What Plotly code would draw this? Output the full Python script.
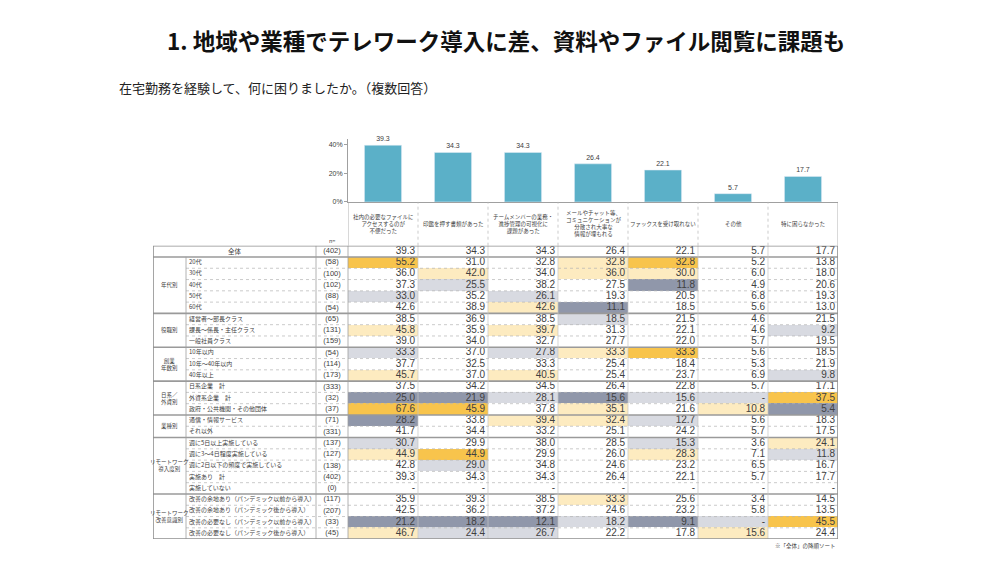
import plotly.graph_objects as go

# ---------------- data ----------------
categories = [
    "社内の必要なファイルに<br>アクセスするのが<br>不便だった",
    "印鑑を押す書類があった",
    "チームメンバーの業務・<br>進捗管理の可視化に<br>課題があった",
    "メールやチャット等、<br>コミュニケーションが<br>分散され大事な<br>情報が埋もれる",
    "ファックスを受け取れない",
    "その他",
    "特に困らなかった",
]
overall = [39.3, 34.3, 34.3, 26.4, 22.1, 5.7, 17.7]

group_labels = ["年代別", "役職別", "創業<br>年数別", "日系／<br>外資別", "業種別",
                "リモートワーク<br>導入度別", "リモートワーク<br>改善意識別"]
group_sizes = [5, 3, 3, 3, 2, 5, 4]

row_labels = [
    "全体", "20代", "30代", "40代", "50代", "60代",
    "経営者～部長クラス", "課長～係長・主任クラス", "一般社員クラス",
    "10年以内", "10年～40年以内", "40年以上",
    "日系企業　計", "外資系企業　計", "政府・公共機関・その他団体",
    "通信・情報サービス", "それ以外",
    "週に5日以上実施している", "週に3～4日程度実施している", "週に2日以下の頻度で実施している",
    "実施あり　計", "実施していない",
    "改善の余地あり（パンデミック以前から導入）", "改善の余地あり（パンデミック後から導入）",
    "改善の必要なし（パンデミック以前から導入）", "改善の必要なし（パンデミック後から導入）",
]
row_n = [402, 58, 100, 102, 88, 54, 65, 131, 159, 54, 114, 173, 333, 32, 37,
         71, 331, 137, 127, 138, 402, 0, 117, 207, 33, 45]
row_values = [
    [39.3, 34.3, 34.3, 26.4, 22.1, 5.7, 17.7],
    [55.2, 31.0, 32.8, 32.8, 32.8, 5.2, 13.8],
    [36.0, 42.0, 34.0, 36.0, 30.0, 6.0, 18.0],
    [37.3, 25.5, 38.2, 27.5, 11.8, 4.9, 20.6],
    [33.0, 35.2, 26.1, 19.3, 20.5, 6.8, 19.3],
    [42.6, 38.9, 42.6, 11.1, 18.5, 5.6, 13.0],
    [38.5, 36.9, 38.5, 18.5, 21.5, 4.6, 21.5],
    [45.8, 35.9, 39.7, 31.3, 22.1, 4.6, 9.2],
    [39.0, 34.0, 32.7, 27.7, 22.0, 5.7, 19.5],
    [33.3, 37.0, 27.8, 33.3, 33.3, 5.6, 18.5],
    [37.7, 32.5, 33.3, 25.4, 18.4, 5.3, 21.9],
    [45.7, 37.0, 40.5, 25.4, 23.7, 6.9, 9.8],
    [37.5, 34.2, 34.5, 26.4, 22.8, 5.7, 17.1],
    [25.0, 21.9, 28.1, 15.6, 15.6, None, 37.5],
    [67.6, 45.9, 37.8, 35.1, 21.6, 10.8, 5.4],
    [28.2, 33.8, 39.4, 32.4, 12.7, 5.6, 18.3],
    [41.7, 34.4, 33.2, 25.1, 24.2, 5.7, 17.5],
    [30.7, 29.9, 38.0, 28.5, 15.3, 3.6, 24.1],
    [44.9, 44.9, 29.9, 26.0, 28.3, 7.1, 11.8],
    [42.8, 29.0, 34.8, 24.6, 23.2, 6.5, 16.7],
    [39.3, 34.3, 34.3, 26.4, 22.1, 5.7, 17.7],
    [None, None, None, None, None, None, None],
    [35.9, 39.3, 38.5, 33.3, 25.6, 3.4, 14.5],
    [42.5, 36.2, 37.2, 24.6, 23.2, 5.8, 13.5],
    [21.2, 18.2, 12.1, 18.2, 9.1, None, 45.5],
    [46.7, 24.4, 26.7, 22.2, 17.8, 15.6, 24.4],
]
# highlight codes: 0 none, 1 light yellow, 2 orange, 3 light gray, 4 dark gray
row_marks = [
    "0000000", "2001200", "0101100", "0300400", "3030000", "0014000",
    "0003000", "1010003", "0000000",
    "3031200", "0000000", "1010003",
    "0000000", "4434332", "2201014",
    "4011300", "0000000",
    "3000301", "1200103", "0300000", "0000000", "0000000",
    "0001000", "0000000", "4443432", "1330010",
]

# ---------------- style ----------------
JP = "Noto Sans CJK JP"
NUM = "Liberation Sans, Arial"
BAR_COLOR = "#5BB0C8"
mark_colors = ["#FFFFFF", "#FDEBC0", "#F8C44C", "#D8DAE1", "#9097AA"]
LINE = "#A0A0A0"
TXT = "#404040"
W, H = 1000, 563


def py(p):
    return 1 - p / H


def px(p):
    return p / W


ncol = len(categories)
nrow = len(row_labels)

# table horizontal geometry (pixels)
T_LEFT, T_GRP, T_SUB, T_DATA, T_RIGHT = 153, 186, 316, 348, 838
colw = (T_RIGHT - T_DATA) / ncol


def tx(p):
    return (p - T_DATA) / colw


fig = go.Figure()

# ---------------- bar chart ----------------
fig.add_trace(go.Bar(
    x=list(range(ncol)), y=overall, marker_color=BAR_COLOR, width=0.53,
    text=[f"{v:.1f}" for v in overall], textposition="outside",
    textfont=dict(size=7, color=TXT, family=NUM), cliponaxis=False,
    hoverinfo="skip", xaxis="x", yaxis="y",
))

# ---------------- table cells ----------------
z = [[int(c) for c in m] for m in row_marks]
fig.add_trace(go.Heatmap(
    z=z, x=[c + 0.5 for c in range(ncol)], y=[r + 0.5 for r in range(nrow)],
    colorscale=[[i / 4, col] for i, col in enumerate(mark_colors)],
    zmin=0, zmax=4, showscale=False, hoverinfo="skip",
    xaxis="x2", yaxis="y2",
))

# numbers
nx, ny, nt = [], [], []
for r, vals in enumerate(row_values):
    for c, v in enumerate(vals):
        nx.append(c + 0.96)
        ny.append(r + 0.5)
        nt.append("-" if v is None else f"{v:.1f}")
fig.add_trace(go.Scatter(
    x=nx, y=ny, text=nt, mode="text", textposition="middle left",
    textfont=dict(size=10, color=TXT, family=NUM), hoverinfo="skip",
    xaxis="x2", yaxis="y2",
))

# n column
fig.add_trace(go.Scatter(
    x=[(tx(T_SUB) + tx(T_DATA)) / 2] * nrow, y=[r + 0.5 for r in range(nrow)],
    text=[f"({n})" for n in row_n], mode="text", textposition="middle center",
    textfont=dict(size=7.5, color=TXT, family=NUM), hoverinfo="skip",
    xaxis="x2", yaxis="y2",
))

# sub labels (rows after the overall one)
fig.add_trace(go.Scatter(
    x=[tx(T_GRP + 3)] * (nrow - 1), y=[r + 0.5 for r in range(1, nrow)],
    text=row_labels[1:], mode="text", textposition="middle right",
    textfont=dict(size=6, color=TXT, family=JP), hoverinfo="skip",
    xaxis="x2", yaxis="y2",
))

annotations = []
# overall label spanning the two label columns
annotations.append(dict(x=(tx(T_LEFT) + tx(T_SUB)) / 2, y=0.5, xref="x2", yref="y2",
                        text=row_labels[0], showarrow=False, yanchor="middle",
                        font=dict(size=6.5, color=TXT, family=JP)))
# group labels
start = 1
group_bounds = [1]
for g, size in zip(group_labels, group_sizes):
    annotations.append(dict(x=(tx(T_LEFT) + tx(T_GRP)) / 2, y=start + size / 2,
                            xref="x2", yref="y2", text=g, showarrow=False,
                            yanchor="middle",
                            font=dict(size=5.5, color=TXT, family=JP)))
    start += size
    group_bounds.append(start)

# category labels under the bars
for i, cat in enumerate(categories):
    annotations.append(dict(x=i, y=py(225), xref="x", yref="paper", text=cat,
                            showarrow=False, align="center", yanchor="middle",
                            font=dict(size=5.5, color=TXT, family=JP)))

annotations.append(dict(x=(tx(T_SUB) + tx(T_DATA)) / 2, y=py(242), xref="x2", yref="paper",
                        text="n=", showarrow=False, yanchor="middle",
                        font=dict(size=5.5, color=TXT, family=JP)))

# title / subtitle / footnote
annotations.append(dict(x=px(506), y=py(40), xref="paper", yref="paper",
                        text="<b>1. 地域や業種でテレワーク導入に差、資料やファイル閲覧に課題も</b>",
                        showarrow=False, xanchor="center", yanchor="middle",
                        font=dict(size=22.5, color="#111111", family=JP)))
annotations.append(dict(x=px(117), y=py(88), xref="paper", yref="paper",
                        text="在宅勤務を経験して、何に困りましたか。（複数回答）",
                        showarrow=False, xanchor="left", yanchor="middle",
                        font=dict(size=13, color="#222222", family=JP)))
annotations.append(dict(x=px(T_RIGHT), y=py(549), xref="paper", yref="paper",
                        text="※「全体」の降順ソート", showarrow=False, xanchor="right",
                        yanchor="middle",
                        font=dict(size=5.5, color=TXT, family=JP)))

# ---------------- lines ----------------
shapes = []
xl, xg, xs, xd, xr = tx(T_LEFT), tx(T_GRP), tx(T_SUB), tx(T_DATA), tx(T_RIGHT)


def hline(y, x0, x1, width=0.8, color=LINE, dash="solid"):
    shapes.append(dict(type="line", xref="x2", yref="y2", x0=x0, x1=x1, y0=y, y1=y,
                       line=dict(color=color, width=width, dash=dash), layer="above"))


def vline(x, y0, y1, width=0.8, color=LINE, dash="solid"):
    shapes.append(dict(type="line", xref="x2", yref="y2", x0=x, x1=x, y0=y0, y1=y1,
                       line=dict(color=color, width=width, dash=dash), layer="above"))


# dashed row separators inside groups
for r in range(1, nrow):
    if r not in group_bounds:
        hline(r, xg, xr, width=0.7, color="#B5B5B5", dash="dot")
# solid group separators
for b in group_bounds[:-1]:
    hline(b, xl, xr, width=1.6, color="#9A9A9A")
# vertical lines
vline(xg, 1, nrow)
vline(xs, 0, nrow)
vline(xd, 0, nrow)
for c in range(1, ncol):
    vline(c, 0, nrow, width=0.7, color="#C4C4C4")
# outer border
shapes.append(dict(type="rect", xref="x2", yref="y2", x0=xl, x1=xr, y0=0, y1=nrow,
                   line=dict(color="#8F8F8F", width=1.6), layer="above"))

# category label cells
for c in range(1, ncol):
    shapes.append(dict(type="line", xref="x", yref="paper", x0=c - 0.5, x1=c - 0.5,
                       y0=py(247), y1=py(203),
                       line=dict(color="#B5B5B5", width=0.7, dash="dot")))
shapes.append(dict(type="line", xref="x", yref="paper", x0=ncol - 0.5, x1=ncol - 0.5,
                   y0=py(247), y1=py(203), line=dict(color=LINE, width=0.8)))
shapes.append(dict(type="line", xref="x", yref="paper", x0=-0.5, x1=-0.5,
                   y0=py(247), y1=py(203), line=dict(color=LINE, width=0.8)))

# ---------------- layout ----------------
y_top_px = 140
fig.update_layout(
    width=W, height=H, margin=dict(l=0, r=0, t=0, b=0),
    paper_bgcolor="white", plot_bgcolor="white", showlegend=False,
    xaxis=dict(domain=[px(T_DATA), px(T_RIGHT)], range=[-0.5, ncol - 0.5],
               showticklabels=False, ticks="", showgrid=False, zeroline=False,
               showline=True, linecolor=LINE, linewidth=0.8),
    yaxis=dict(domain=[py(203), py(y_top_px)], range=[0, (203 - y_top_px) / 1.45],
               tickvals=[0, 20, 40], ticktext=["0%", "20%", "40%"],
               tickfont=dict(size=7, color=TXT, family=NUM), showgrid=False,
               zeroline=False, showline=True, linecolor=LINE, linewidth=0.8,
               ticks="outside", ticklen=3, tickcolor=LINE),
    xaxis2=dict(domain=[px(T_LEFT), px(T_RIGHT)], range=[xl, xr], visible=False,
                anchor="y2"),
    yaxis2=dict(domain=[py(542), py(247)], range=[nrow, 0], visible=False,
                anchor="x2"),
    annotations=annotations, shapes=shapes,
)

fig.write_html(
    "out.html",
    config={"displayModeBar": False},
    post_script="document.body.style.margin='0';document.body.style.overflow='hidden';",
)
